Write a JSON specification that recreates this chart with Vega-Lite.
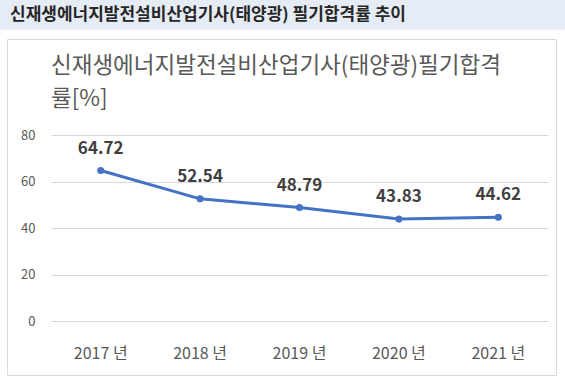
{
  "$schema": "https://vega.github.io/schema/vega-lite/v6.json",
  "padding": 0,
  "background": "white",
  "config": {
    "font": "Noto Sans CJK KR",
    "view": {"stroke": null},
    "concat": {"spacing": 0}
  },
  "vconcat": [
    {
      "width": 565,
      "height": 30,
      "view": {"fill": "#e6ecf6", "stroke": null},
      "data": {"values": [{"t": "신재생에너지발전설비산업기사(태양광) 필기합격률 추이"}]},
      "mark": {"type": "text", "align": "left", "baseline": "middle", "dx": 10, "fontSize": 17, "fontWeight": "bold", "color": "#262626", "font": "Noto Sans CJK KR"},
      "encoding": {
        "x": {"datum": 0, "type": "quantitative", "scale": {"domain": [0, 1]}, "axis": null},
        "text": {"field": "t"}
      }
    },
    {
      "hconcat": [
        {
          "width": 1,
          "height": 336,
          "data": {"values": []},
          "mark": "rect",
          "view": {"stroke": null}
        },
        {
          "width": 549,
          "height": 336,
          "view": {"stroke": "#d9d9d9", "strokeWidth": 1, "fill": "white"},
          "title": {
            "text": ["신재생에너지발전설비산업기사(태양광)필기합격", "률[%]"],
            "anchor": "start",
            "frame": "group",
            "orient": "top",
            "dx": 44,
            "offset": -71,
            "fontSize": 22.5,
            "fontWeight": "normal",
            "color": "#595959",
            "lineHeight": 33,
            "font": "Noto Sans CJK KR"
          },
          "data": {"values": [
            {"year": "2017 년", "rate": 64.72},
            {"year": "2018 년", "rate": 52.54},
            {"year": "2019 년", "rate": 48.79},
            {"year": "2020 년", "rate": 43.83},
            {"year": "2021 년", "rate": 44.62}
          ]},
          "encoding": {
            "x": {
              "field": "year", "type": "ordinal", "sort": null,
              "scale": {"type": "band", "range": [44, 541], "paddingInner": 0, "paddingOuter": 0},
              "axis": {"title": null, "orient": "bottom", "offset": -30, "domain": false, "ticks": false, "tickSize": 0, "labelPadding": 0, "labelAngle": 0, "labelFontSize": 16, "labelColor": "#595959", "labelBaseline": "top", "grid": false, "labelFont": "Noto Sans CJK KR"}
            },
            "y": {
              "field": "rate", "type": "quantitative",
              "scale": {"domain": [0, 80], "range": [282, 96], "nice": false},
              "axis": {"title": null, "orient": "left", "offset": -28, "values": [0, 20, 40, 60, 80], "domain": false, "ticks": false, "tickSize": 0, "labelPadding": 0, "labelFontSize": 13, "labelColor": "#595959", "gridColor": "#d9d9d9", "gridWidth": 1, "labelFont": "Noto Sans CJK KR"}
            }
          },
          "layer": [
            {"mark": {"type": "line", "color": "#4472c4", "strokeWidth": 3}},
            {"mark": {"type": "point", "filled": true, "color": "#4472c4", "size": 50, "opacity": 1}},
            {"mark": {"type": "text", "dy": -22, "fontSize": 17, "fontWeight": "bold", "color": "#404040", "baseline": "middle"},
             "encoding": {"text": {"field": "rate", "type": "quantitative", "format": ".2f"}}}
          ]
        }
      ],
      "spacing": 5
    }
  ],
  "spacing": 8
}
